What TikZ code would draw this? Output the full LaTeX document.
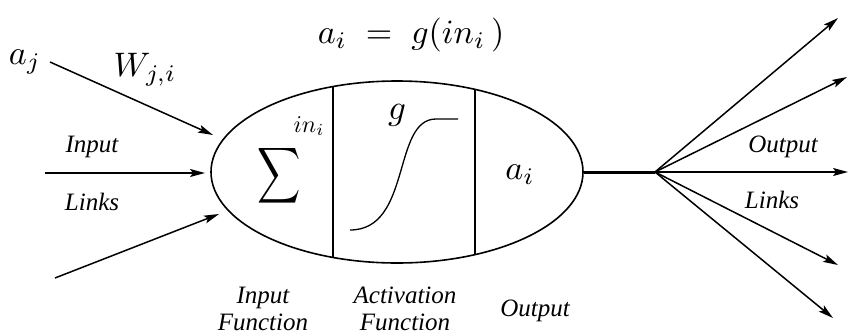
\documentclass[tikz,border=0pt]{standalone}
\usepackage{amsmath}
\usepackage{fontspec}
\setmainfont{Liberation Serif}
\usetikzlibrary{arrows.meta,shapes.geometric}
\tikzset{
  arr/.style={line width=1.5pt,-{Stealth[length=15pt,width=8pt,inset=3pt]}},
  lbl/.style={font=\fontsize{25}{27}\selectfont\itshape, align=center, inner sep=0},
  mth/.style={inner sep=0, scale=3.4},
}
\begin{document}
\begin{tikzpicture}[x=1pt,y=-1pt]
\useasboundingbox (0,0) rectangle (848,335);
% neuron body
\node[ellipse, draw, line width=1.6pt, minimum width=372pt, minimum height=182pt, inner sep=0] (neuron) at (397,172) {};
\begin{scope}
  \clip (397,172) ellipse [x radius=186pt, y radius=91pt];
  \draw[line width=1.1pt] (333,60) -- (333,290);
  \draw[line width=1.1pt] (475,60) -- (475,290);
\end{scope}
% inside
\node[inner sep=0, xscale=3.0, yscale=3.9] (sum) at (279,176) {$\displaystyle\sum$};
\node[inner sep=0, scale=2.4] (ini) at (309,126) {$in_i$};
\node[inner sep=0, scale=3.5] (g) at (397,115) {$g$};
\draw[line width=1.3pt] (350,230) .. controls (412,230) and (392,119) .. (436,119) -- (458,119);
\node[mth] (ai) at (520,175) {$a_i$};
% formula
\node[mth] (formula) at (411,35) {$a_i \;=\; g(in_i\,)$};
% inputs
\node[mth] (aj) at (25,62) {$a_j$};
\node[mth] (wji) at (145,70) {$W_{j,i}$};
\coordinate (s1) at (50,62);
\coordinate (t1) at (213,135);
\coordinate (s2) at (45,173);
\coordinate (t2) at (205,173);
\coordinate (s3) at (55,278);
\coordinate (t3) at (219,214);
\draw[arr] (s1) -- (t1);
\draw[arr] (s2) -- (t2);
\draw[arr] (s3) -- (t3);
\node[lbl] (inlab) at (92,147) {Input};
\node[lbl] (linkl) at (92,202) {Links};
% output
\coordinate (fan) at (655,172);
\draw[line width=3pt] (neuron.east) -- (fan);
\coordinate (o1) at (838,18);
\coordinate (o2) at (847,77);
\coordinate (o3) at (848,172);
\coordinate (o4) at (838,265);
\coordinate (o5) at (833,318);
\foreach \o in {o1,o2,o3,o4,o5} \draw[arr] (fan) -- (\o);
\node[lbl] (outlab) at (783,147) {Output};
\node[lbl] (linkr) at (772,200) {Links};
% bottom labels
\node[lbl] (inf) at (263,309) {Input\\Function};
\node[lbl] (actf) at (405,309) {Activation\\Function};
\node[lbl] (outf) at (535,311) {Output};
\end{tikzpicture}
\end{document}
